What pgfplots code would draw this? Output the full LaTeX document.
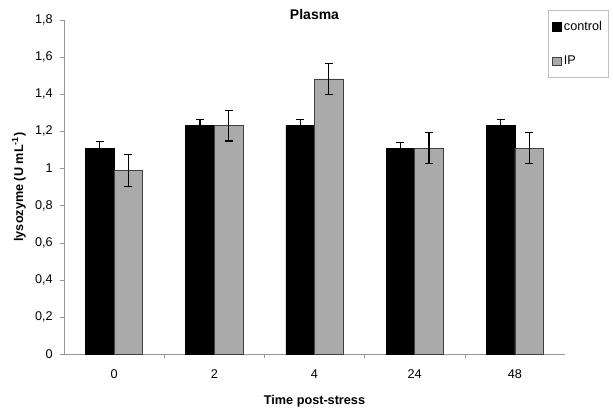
\documentclass[border=0pt]{standalone}
\usepackage{pgfplots}
\pgfplotsset{compat=1.18}
\usepackage{fontspec}
\setmainfont{Liberation Sans}
\definecolor{ipgray}{RGB}{170,170,170}
\definecolor{axgray}{RGB}{150,150,150}
\begin{document}
\begin{tikzpicture}[x=1pt,y=1pt]
\path[use as bounding box] (0,0) rectangle (459.75,305.25);
\begin{axis}[
  at={(48pt,39.75pt)}, anchor=south west,
  scale only axis, width=375.75pt, height=250.5pt,
  ymin=0, ymax=1.8, xmin=-0.5, xmax=4.5,
  ybar=0pt, bar width=0.285,
  axis x line=bottom, axis y line=left,
  axis line style={-, draw=axgray},
  xtick={0,1,2,3,4}, xticklabels={0,2,4,24,48},
  major x tick style={draw=none},
  minor xtick={0.5,1.5,2.5,3.5},
  minor x tick style={draw=axgray},
  minor tick length=3pt,
  ytick={0,0.2,...,1.8},
  major y tick style={draw=axgray},
  major tick length=3pt,
  tick align=outside,
  /pgf/number format/.cd, use comma, fixed, precision=1, assume math mode=true,
  /pgfplots/.cd,
  tick label style={font=\fontsize{9.5}{11}\selectfont},
  x tick label style={yshift=-5pt},
  y tick label style={xshift=-2pt},
  xlabel={\bfseries Time post-stress},
  ylabel={\bfseries lysozyme (U mL\textsuperscript{-1})},
  label style={font=\fontsize{9.5}{11}\selectfont},
  xlabel style={yshift=-6pt},
  ylabel style={yshift=0pt},
  title={\bfseries Plasma},
  title style={at={(0.5,1)}, anchor=center, yshift=-1.5pt, font=\fontsize{10.5}{12}\selectfont},
  legend style={at={(0.966,1.03)}, anchor=north west, draw=axgray!60, font=\fontsize{9.5}{11}\selectfont,
    row sep=14pt, inner ysep=6pt, inner xsep=3pt},
  legend cell align=left,
  legend image code/.code={\draw[#1] (0pt,-3.2pt) rectangle (6.4pt,3.2pt);},
  error bars/error bar style={black, line width=0.8pt},
  error bars/error mark options={rotate=90, mark size=3pt, line width=0.8pt, black},
]
\addplot[fill=black, draw=black, error bars/.cd, y dir=both, y explicit]
  coordinates {(0,1.11) +- (0,0.035) (1,1.23) +- (0,0.035) (2,1.23) +- (0,0.035) (3,1.11) +- (0,0.03) (4,1.23) +- (0,0.035)};
\addplot[fill=ipgray, draw=black!75, error bars/.cd, y dir=both, y explicit]
  coordinates {(0,0.988) +- (0,0.085) (1,1.23) +- (0,0.082) (2,1.483) +- (0,0.082) (3,1.11) +- (0,0.083) (4,1.11) +- (0,0.082)};
\legend{control, IP}
\end{axis}
\end{tikzpicture}
\end{document}
